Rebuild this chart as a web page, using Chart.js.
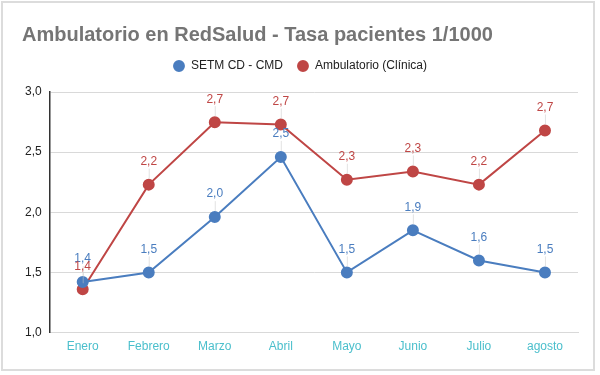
<!DOCTYPE html>
<html>
<head>
<meta charset="utf-8">
<script src="https://cdn.jsdelivr.net/npm/chart.js@4"></script>
<style>
  html, body { margin: 0; padding: 0; background: #fff; }
  #frame {
    position: absolute; left: 1px; top: 1px;
    width: 594px; height: 370px;
    border: 2px solid #dcdcdc;
    box-sizing: border-box;
  }
  #chartBox { position: absolute; left: 0; top: 0; width: 600px; height: 375px; }
</style>
</head>
<body>
<div id="frame"></div>
<div id="chartBox"><canvas id="chart"></canvas></div>
<script>
const months = ['Enero', 'Febrero', 'Marzo', 'Abril', 'Mayo', 'Junio', 'Julio', 'agosto'];
const setmValues = [1.42, 1.50, 1.96, 2.46, 1.50, 1.85, 1.60, 1.50];
const ambulatorioValues = [1.36, 2.23, 2.749, 2.73, 2.27, 2.34, 2.23, 2.68];
const yTicks = [1.0, 1.5, 2.0, 2.5, 3.0];

const blue = '#4a7dbf';
const red = '#bf4645';
const fontFamily = '"Liberation Sans", Arial, sans-serif';

const fmt = v => v.toFixed(1).replace('.', ',');

// labels above each point with a faint leader line
const pointLabels = {
  id: 'pointLabels',
  afterDatasetsDraw(chart) {
    const ctx = chart.ctx;
    ctx.save();
    ctx.font = '12px ' + fontFamily;
    ctx.textAlign = 'center';
    ctx.textBaseline = 'middle';
    chart.data.datasets.forEach((ds, i) => {
      const meta = chart.getDatasetMeta(i);
      meta.data.forEach((pt, j) => {
        const lx = pt.x;
        const ly = pt.y - 23;
        ctx.strokeStyle = 'rgba(200,200,200,0.5)';
        ctx.lineWidth = 1;
        ctx.beginPath();
        ctx.moveTo(lx + 0.5, pt.y - 6);
        ctx.lineTo(lx + 0.5, ly + 7);
        ctx.stroke();
        ctx.fillStyle = ds.borderColor;
        ctx.fillText(fmt(ds.data[j]), lx, ly);
      });
    });
    ctx.restore();
  }
};

// a bit more room under the legend
const legendGap = {
  id: 'legendGap',
  beforeInit(chart) {
    const fit = chart.legend.fit;
    chart.legend.fit = function () {
      fit.bind(chart.legend)();
      this.height += 10;
    };
  }
};

new Chart(document.getElementById('chart'), {
  type: 'line',
  data: {
    labels: months,
    datasets: [
      {
        label: 'SETM CD - CMD',
        data: setmValues,
        borderColor: blue,
        backgroundColor: blue,
        borderWidth: 2,
        pointRadius: 5,
        pointHoverRadius: 5,
        tension: 0
      },
      {
        label: 'Ambulatorio (Clínica)',
        data: ambulatorioValues,
        borderColor: red,
        backgroundColor: red,
        borderWidth: 2,
        pointRadius: 5,
        pointHoverRadius: 5,
        tension: 0
      }
    ]
  },
  options: {
    responsive: true,
    maintainAspectRatio: false,
    animation: false,
    layout: { padding: { left: 22, right: 22, top: 17, bottom: 22 } },
    plugins: {
      title: {
        display: true,
        text: 'Ambulatorio en RedSalud - Tasa pacientes 1/1000',
        align: 'start',
        color: '#757575',
        font: { family: fontFamily, size: 20, weight: 'bold' },
        padding: { top: 6, bottom: -1 }
      },
      legend: {
        display: true,
        labels: {
          usePointStyle: true,
          pointStyle: 'circle',
          boxWidth: 12,
          boxHeight: 7,
          padding: 14,
          color: '#222',
          font: { family: fontFamily, size: 12 }
        }
      },
      tooltip: { enabled: false }
    },
    scales: {
      x: {
        offset: true,
        grid: { display: false },
        border: { color: '#d9d9d9', width: 1 },
        ticks: {
          color: '#4bbfcc',
          font: { family: fontFamily, size: 12 },
          padding: -1
        }
      },
      y: {
        min: yTicks[0],
        max: yTicks[yTicks.length - 1],
        afterBuildTicks: axis => { axis.ticks = yTicks.map(v => ({ value: v })); },
        afterFit: axis => { axis.width -= 5; },
        grid: { color: '#d9d9d9', drawTicks: false },
        border: { color: '#333', width: 1.5 },
        ticks: {
          color: '#222',
          font: { family: fontFamily, size: 12 },
          padding: 8,
          callback: v => fmt(v)
        }
      }
    }
  },
  plugins: [pointLabels, legendGap]
});
</script>
</body>
</html>
